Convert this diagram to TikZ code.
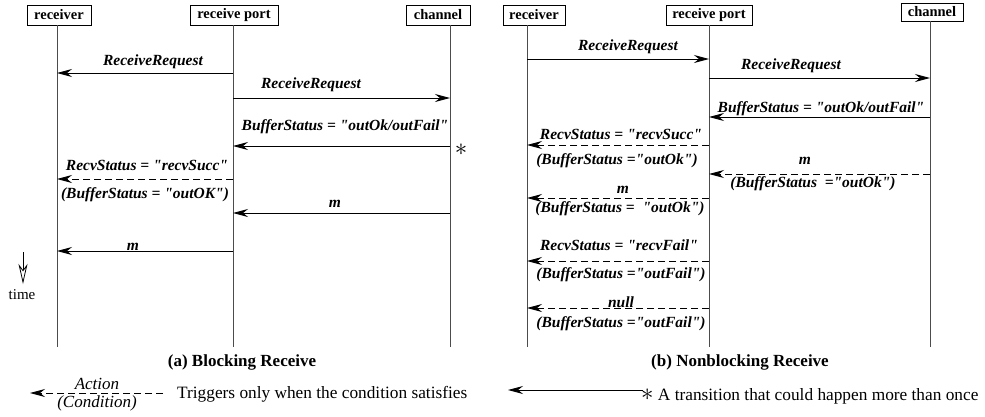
\documentclass[tikz,border=0pt]{standalone}
\usepackage{fontspec}
\setmainfont{Liberation Serif}[Ligatures=TeXOff]
\usetikzlibrary{arrows.meta}
\begin{document}
\begin{tikzpicture}[x=1pt,y=-1pt,
  box/.style={draw, line width=0.9pt, inner sep=0pt, minimum height=20pt, font=\fontsize{14.5}{16}\selectfont\bfseries},
  life/.style={draw=black!70, line width=1pt},
  msg/.style={-{Stealth[length=15pt,width=8pt,inset=5pt]}, line width=0.9pt},
  cond/.style={msg, dash pattern=on 7pt off 4pt},
  lab/.style={font=\fontsize{15.5}{17}\selectfont\bfseries\itshape, inner sep=0pt, anchor=base},
  captxt/.style={font=\fontsize{17}{19}\selectfont\bfseries, inner sep=0pt},
  txt/.style={font=\fontsize{17.3}{19}\selectfont, inner sep=0pt, anchor=base west},
  ltxt/.style={font=\fontsize{17}{19}\selectfont\itshape, inner sep=0pt, anchor=base}]
\useasboundingbox (0,0) rectangle (985,416);

% ---------- (a) Blocking Receive ----------
\node[box, minimum width=64pt] (recA) at (59,15) {receiver};
\node[box, minimum width=88pt] (portA) at (234,15) {receive port};
\node[box, minimum width=64pt] (chanA) at (438,15) {channel};
\coordinate (rA) at (57,25);
\coordinate (pA) at (233,25);
\coordinate (cA) at (450,25);
\draw[life] (rA) -- (rA |- 0,347);
\draw[life] (pA) -- (pA |- 0,347);
\draw[life] (cA) -- (cA |- 0,347);

\draw[msg] (pA |- 0,73) -- (rA |- 0,73);
\node[lab] (a1) at (153,65) {ReceiveRequest};
\draw[msg] (pA |- 0,98) -- (cA |- 0,98);
\node[lab] (a2) at (311,88) {ReceiveRequest};
\draw[msg] (cA |- 0,146) -- (pA |- 0,146);
\node[lab] (a3) at (345,130) {BufferStatus = "outOk/outFail"};
\node[font=\fontsize{26}{28}\selectfont, inner sep=0pt, anchor=base] (starA) at (461,155.5) {$\ast$};
\draw[cond] (pA |- 0,179) -- (rA |- 0,179);
\node[lab] (a4) at (147,170) {RecvStatus = "recvSucc"};
\node[lab] (a5) at (145,198) {(BufferStatus = "outOK")};
\draw[msg] (cA |- 0,213) -- (pA |- 0,213);
\node[lab] (a6) at (335,207) {m};
\draw[msg] (pA |- 0,251) -- (rA |- 0,251);
\node[lab] (a7) at (133,250) {m};

\coordinate (tA) at (23,252);
\coordinate (tB) at (23,284);
\draw[-{Stealth[open,length=20pt,width=9pt,inset=6pt]}, line width=0.8pt] (tA) -- (tB);
\node[font=\fontsize{15}{17}\selectfont, inner sep=0pt, anchor=base] (time) at (22,299) {time};

\node[captxt] (capA) at (242,362) {(a) Blocking Receive};

% legend left
\coordinate (lgA1) at (163,393);
\coordinate (lgA2) at (30,393);
\draw[cond] (lgA1) -- (lgA2);
\node[ltxt] (act) at (97,389) {Action};
\node[ltxt] (cnd) at (97,407) {(Condition)};
\node[txt] (trig) at (177,398) {Triggers only when the condition satisfies};

% ---------- (b) Nonblocking Receive ----------
\node[box, minimum width=62pt] (recB) at (534,15) {receiver};
\node[box, minimum width=86pt] (portB) at (709,15) {receive port};
\node[box, minimum width=62pt, minimum height=18pt] (chanB) at (932,12) {channel};
\coordinate (rB) at (527,25);
\coordinate (pB) at (709,25);
\coordinate (cB) at (930,21);
\draw[life] (rB) -- (rB |- 0,347);
\draw[life] (pB) -- (pB |- 0,347);
\draw[life] (cB) -- (cB |- 0,347);

\draw[msg] (rB |- 0,59) -- (pB |- 0,59);
\node[lab] (b1) at (628,50) {ReceiveRequest};
\draw[msg] (pB |- 0,78) -- (cB |- 0,78);
\node[lab] (b2) at (791,69) {ReceiveRequest};
\draw[msg] (cB |- 0,117) -- (pB |- 0,117);
\node[lab] (b3) at (821,112) {BufferStatus = "outOk/outFail"};

\draw[cond] (pB |- 0,145) -- (rB |- 0,145);
\node[lab] (b4) at (621,139) {RecvStatus = "recvSucc"};
\node[lab] (b5) at (617,164) {(BufferStatus ="outOk")};

\draw[cond] (cB |- 0,174) -- (pB |- 0,174);
\node[lab] (b6) at (805,164) {m};
\node[lab] (b7) at (813,187) {(BufferStatus \ ="outOk")};

\draw[cond] (pB |- 0,198) -- (rB |- 0,198);
\node[lab] (b8) at (623,193) {m};
\node[lab] (b9) at (620,212) {(BufferStatus = \ "outOk")};

\draw[cond] (pB |- 0,261) -- (rB |- 0,261);
\node[lab] (b10) at (619,250) {RecvStatus = "recvFail"};
\node[lab] (b11) at (621,278) {(BufferStatus ="outFail")};

\draw[cond] (pB |- 0,308) -- (rB |- 0,308);
\node[lab] (b12) at (621,307) {null};
\node[lab] (b13) at (621,327) {(BufferStatus ="outFail")};

\node[captxt] (capB) at (740,362) {(b) Nonblocking Receive};

% legend right
\coordinate (lgB1) at (643,390);
\coordinate (lgB2) at (508,390);
\draw[msg] (lgB1) -- (lgB2);
\node[txt] (trans) at (641,400) {{\fontsize{24}{26}\selectfont$\ast$} A transition that could happen more than once};
\end{tikzpicture}
\end{document}
